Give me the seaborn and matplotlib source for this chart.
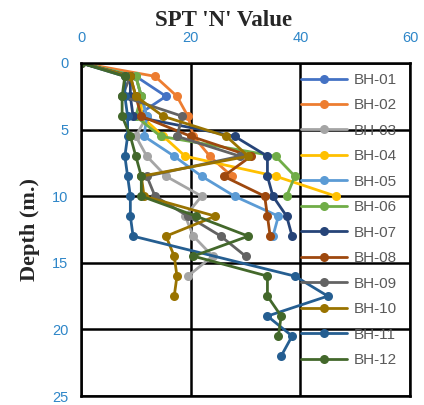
import numpy as np
import pandas as pd
import matplotlib
matplotlib.use("Agg")
import matplotlib.pyplot as plt
import seaborn as sns

# depth (m) and SPT N values, per borehole
bh01_depth = [0, 1, 2.5, 4]
bh01_n = [0, 10, 15.5, 10]
bh02_depth = [0, 1, 2.5, 4, 5.5, 7, 8.5]
bh02_n = [0, 13.5, 17.5, 19.5, 20.5, 23.5, 27.5]
bh03_depth = [0, 1, 2.5, 4, 5.5, 7, 8.5, 10, 11.5, 13, 14.5, 16]
bh03_n = [0, 10, 11, 12, 10, 12, 15.5, 22, 19, 20.5, 24, 19.5]
bh04_depth = [0, 1, 2.5, 4, 5.5, 7, 8.5, 10]
bh04_n = [0, 10, 11, 11, 15, 19, 35.5, 46.5]
bh05_depth = [0, 1, 2.5, 4, 5.5, 7, 8.5, 10, 11.5, 13]
bh05_n = [0, 10, 11, 12, 11.5, 17, 22, 28, 36, 35]
bh06_depth = [0, 1, 2.5, 4, 5.5, 7, 8.5, 10]
bh06_n = [0, 10, 11, 10, 14.5, 35.5, 39, 37.5]
bh07_depth = [0, 1, 2.5, 4, 5.5, 7, 8.5, 10, 11.5, 13]
bh07_n = [0, 9, 9, 9.5, 28, 34, 34, 35, 37.5, 38.5]
bh08_depth = [0, 1, 2.5, 4, 5.5, 7, 8.5, 10, 11.5, 13]
bh08_n = [0, 9, 10, 11, 20, 31, 26, 33.5, 34, 34.5]
bh09_depth = [0, 1, 2.5, 4, 5.5, 7, 8.5, 10, 11.5, 13, 14.5]
bh09_n = [0, 9, 7.5, 18.5, 17.5, 29, 12, 13.5, 19.5, 25.5, 30]
bh10_depth = [0, 1, 2.5, 4, 5.5, 7, 8.5, 10, 11.5, 13, 14.5, 16, 17.5]
bh10_n = [0, 9, 10, 15, 26.5, 30.5, 11, 11.5, 24.5, 15.5, 17, 17.5, 17]
bh11_depth = [0, 1, 2.5, 4, 5.5, 7, 8.5, 10, 11.5, 13, 16, 17.5, 19, 20.5, 22]
bh11_n = [0, 8, 8, 8.5, 8.5, 8, 8.5, 9, 9, 9.5, 39, 45, 34, 38.5, 36.5]
bh12_depth = [0, 1, 2.5, 4, 5.5, 7, 8.5, 10, 11.5, 13, 14.5, 16, 17.5, 19, 20.5]
bh12_n = [0, 8, 7.5, 7.5, 9, 10, 11, 11, 21, 30.5, 20.5, 34, 34, 36.5, 36]

names = ["BH-01", "BH-02", "BH-03", "BH-04", "BH-05", "BH-06",
         "BH-07", "BH-08", "BH-09", "BH-10", "BH-11", "BH-12"]
depths = [bh01_depth, bh02_depth, bh03_depth, bh04_depth, bh05_depth, bh06_depth,
          bh07_depth, bh08_depth, bh09_depth, bh10_depth, bh11_depth, bh12_depth]
values = [bh01_n, bh02_n, bh03_n, bh04_n, bh05_n, bh06_n,
          bh07_n, bh08_n, bh09_n, bh10_n, bh11_n, bh12_n]
colors = ["#4472C4", "#ED7D31", "#A5A5A5", "#FFC000", "#5B9BD5", "#70AD47",
          "#264478", "#9E480E", "#636363", "#997300", "#255E91", "#43682B"]

rows = []
for name, d, n in zip(names, depths, values):
    for dd, nn in zip(d, n):
        rows.append({"BH": name, "Depth": dd, "N": nn})
df = pd.DataFrame(rows)

sns.set_theme(style="white")
plt.rcParams["font.family"] = ["Liberation Sans", "DejaVu Sans"]
serif = ["Liberation Serif", "DejaVu Serif"]

fig = plt.figure(figsize=(4.24, 4.05), dpi=100)
ax = fig.add_axes([81 / 424, 1 - 396 / 405, 329 / 424, 333 / 405])

sns.lineplot(data=df, x="N", y="Depth", hue="BH", hue_order=names,
             palette=dict(zip(names, colors)), sort=False, estimator=None,
             marker="o", markersize=6.5, markeredgewidth=0, linewidth=2,
             ax=ax)

ax.set_xlim(0, 60)
ax.set_ylim(25, 0)
ax.set_xticks([0, 20, 40, 60])
ax.set_yticks([0, 5, 10, 15, 20, 25])
ax.xaxis.tick_top()
ax.tick_params(axis="both", length=0, labelsize=10.5, labelcolor="#2E86C8")
ax.tick_params(axis="x", pad=13)
ax.tick_params(axis="y", pad=9)
ax.grid(True, color="black", linewidth=1.8)
ax.set_axisbelow(True)
for s in ax.spines.values():
    s.set_color("black")
    s.set_linewidth(1.8)

ax.set_xlabel("")
ax.set_ylabel("Depth (m.)", fontsize=16, fontweight="bold", family=serif, labelpad=9)
fig.text(224 / 424, 1 - 21 / 405, "SPT 'N' Value", ha="center", va="center",
         fontsize=16.5, fontweight="bold", family=serif)

leg = ax.legend(loc="upper left", bbox_to_anchor=(0.64, 1.0), frameon=False,
                fontsize=11, labelspacing=0.75, handlelength=3.0,
                handletextpad=0.4, borderaxespad=0.25)
for t in leg.get_texts():
    t.set_color("#595959")

fig.savefig("out.png", dpi=100)
